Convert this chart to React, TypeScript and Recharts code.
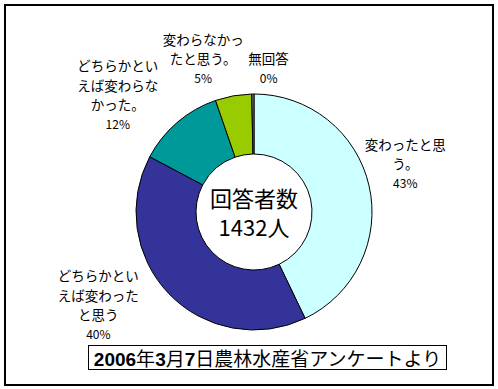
import { PieChart, Pie, Cell } from 'recharts';

const categories = [
  '変わったと思う。',
  'どちらかといえば変わったと思う',
  'どちらかといえば変わらなかった。',
  '変わらなかったと思う。',
  '無回答',
];
const shares = [43, 40, 12, 5, 0.3];
const shareLabels = ['43%', '40%', '12%', '5%', '0%'];
const respondents = 1432;

// label text broken into lines as in the original
const labelLines = [
  ['変わったと思', 'う。'],
  ['どちらかとい', 'えば変わった', 'と思う'],
  ['どちらかとい', 'えば変わらな', 'かった。'],
  ['変わらなかっ', 'たと思う。'],
  ['無回答'],
];
const labelShift = [
  { dx: 7, dy: -16 },
  { dx: -49, dy: -10 },
  { dx: -40, dy: -5 },
  { dx: -25, dy: -8 },
  { dx: 16, dy: 4 },
];
const colors = ['#CCFFFF', '#333399', '#009999', '#99CC00', '#808080'];

const data = categories.map((name, i) => ({ name, value: shares[i], pct: shareLabels[i] }));

const RADIAN = Math.PI / 180;
const FONT = '"Noto Sans CJK JP", sans-serif';

const renderLabel = (props: any) => {
  const { cx, cy, midAngle, outerRadius, index } = props;
  const r = outerRadius + 30;
  const x = cx + r * Math.cos(-midAngle * RADIAN) + labelShift[index].dx;
  const y = cy + r * Math.sin(-midAngle * RADIAN) + labelShift[index].dy;
  const lines = [...labelLines[index], shareLabels[index]];
  const lh = 19.5;
  const top = y - ((lines.length - 1) * lh) / 2;
  return (
    <g key={index}>
      {lines.map((t, j) => (
        <text
          key={j}
          x={x}
          y={top + j * lh}
          textAnchor="middle"
          dominantBaseline="central"
          fontFamily={FONT}
          fontSize={j === lines.length - 1 ? 12 : 13.5}
          fill="#000"
        >
          {t}
        </text>
      ))}
      {index === 0 && (
        <g>
          <text x={cx} y={cy - 15} textAnchor="middle" dominantBaseline="central" fontFamily={FONT} fontSize={22} fill="#000">
            回答者数
          </text>
          <text x={cx} y={cy + 14} textAnchor="middle" dominantBaseline="central" fontFamily={FONT} fontSize={22} fill="#000">
            {respondents}人
          </text>
        </g>
      )}
    </g>
  );
};

export default function App() {
  return (
    <div style={{ position: 'absolute', left: 0, top: 0, width: 498, height: 389, background: '#fff' }}>
      <div
        style={{
          position: 'absolute',
          left: 4,
          top: 4,
          width: 486,
          height: 378,
          border: '2px solid #000',
        }}
      />
      <PieChart width={498} height={389} style={{ position: 'absolute', left: 0, top: 0 }}>
        <Pie
          data={data}
          dataKey="value"
          nameKey="name"
          cx={249}
          cy={207}
          innerRadius={58}
          outerRadius={118}
          startAngle={90}
          endAngle={-270}
          stroke="#000"
          strokeWidth={1}
          label={renderLabel}
          labelLine={false}
          isAnimationActive={false}
        >
          {data.map((d, i) => (
            <Cell key={d.name} fill={colors[i]} />
          ))}
        </Pie>
      </PieChart>
      <div
        style={{
          position: 'absolute',
          left: 88,
          top: 345,
          width: 357,
          height: 23,
          border: '1px solid #000',
          fontFamily: FONT,
          fontSize: 19,
          lineHeight: '23px',
          textAlign: 'center',
          whiteSpace: 'nowrap',
        }}
      >
        <b style={{ fontFamily: '"Liberation Sans", Arial, sans-serif' }}>2006</b>年
        <b style={{ fontFamily: '"Liberation Sans", Arial, sans-serif' }}>3</b>月
        <b style={{ fontFamily: '"Liberation Sans", Arial, sans-serif' }}>7</b>日農林水産省アンケートより
      </div>
    </div>
  );
}
